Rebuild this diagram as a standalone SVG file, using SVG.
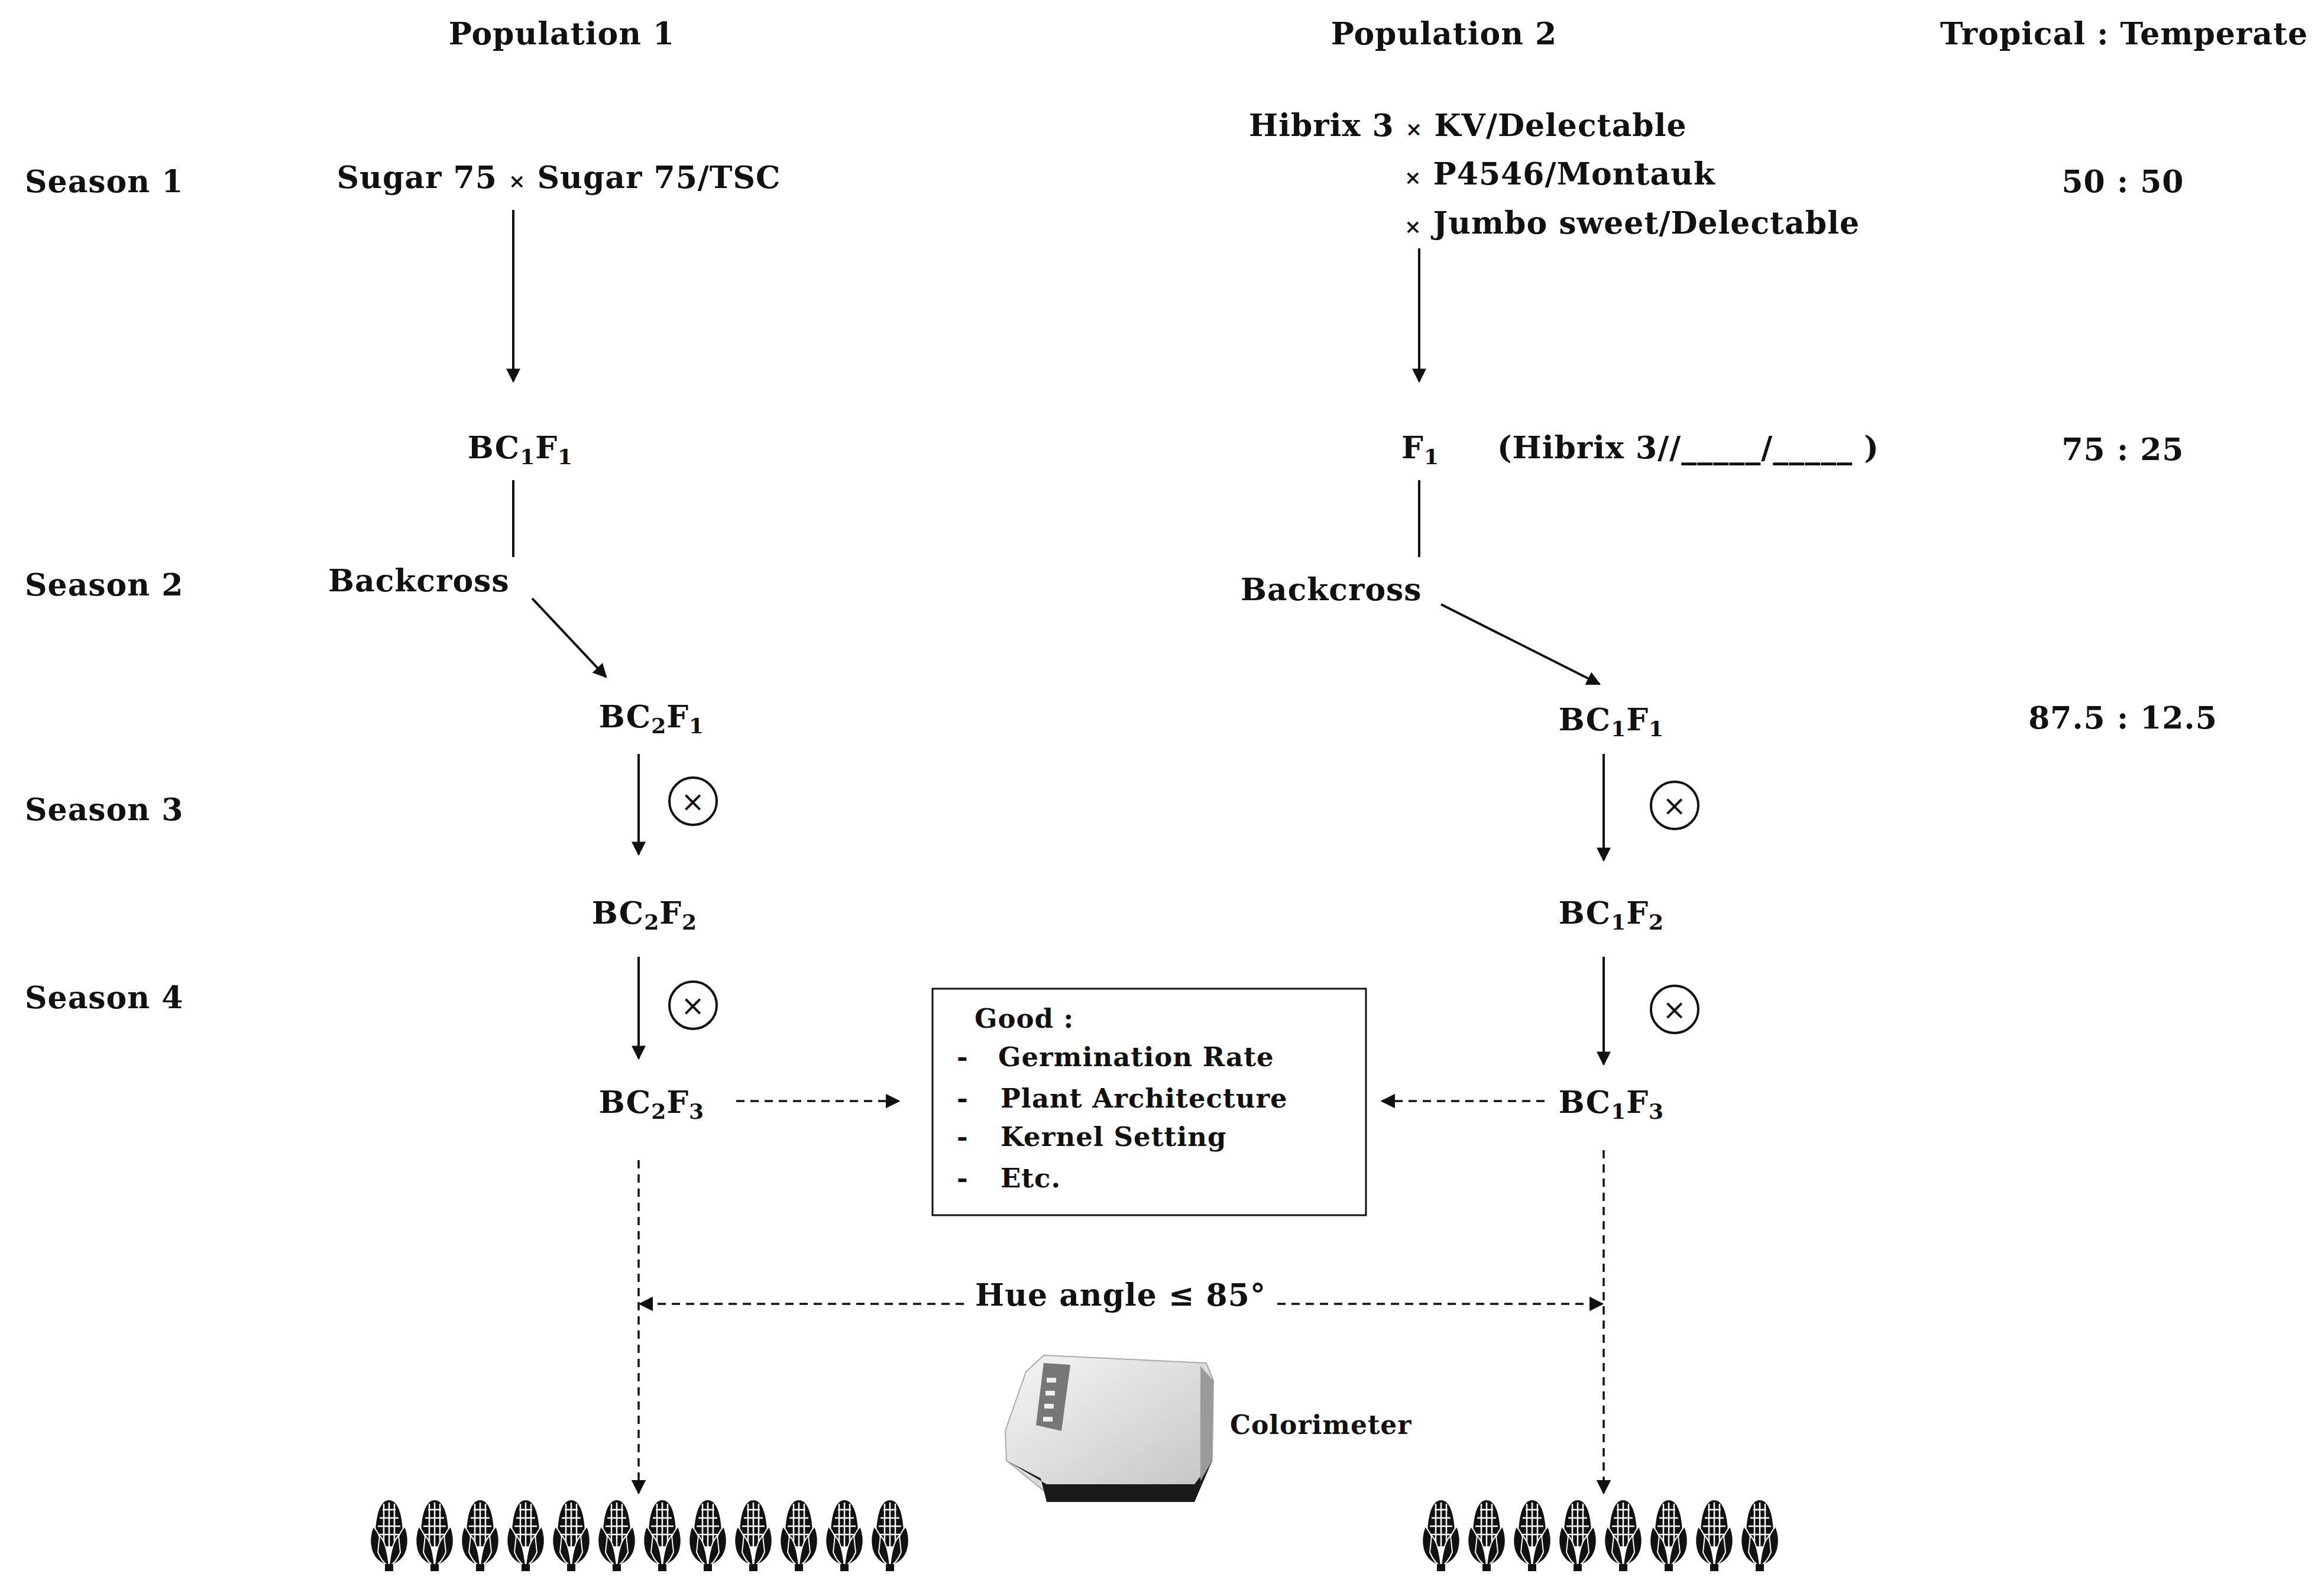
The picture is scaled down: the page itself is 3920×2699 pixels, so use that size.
<svg xmlns="http://www.w3.org/2000/svg" width="3920" height="2699" viewBox="0 0 3920 2699">
<style>
text{font-family:"DejaVu Serif","Liberation Serif",serif;font-weight:bold;fill:#111;font-size:52px;letter-spacing:1px}
.m{text-anchor:middle}
.sm{font-size:45px}
.x{font-size:48px;font-weight:normal;font-family:"DejaVu Sans",sans-serif}
.ln{stroke:#111;stroke-width:4;fill:none}
.ds{stroke:#111;stroke-width:3.5;fill:none;stroke-dasharray:14 10}
</style>
<defs>
<marker id="ah" viewBox="0 0 10 10" refX="9" refY="5" markerWidth="6" markerHeight="6" markerUnits="strokeWidth" orient="auto"><path d="M0,0 L10,5 L0,10 z" fill="#111"/></marker>
<marker id="ah2" viewBox="0 0 10 10" refX="9" refY="5" markerWidth="7" markerHeight="7" markerUnits="strokeWidth" orient="auto"><path d="M0,0 L10,5 L0,10 z" fill="#111"/></marker>
<g id="corn">
<path d="M0,2 C16,2 23,30 23,62 C23,72 21,78 18,80 L-18,80 C-21,78 -23,72 -23,62 C-23,30 -16,2 0,2 Z" fill="#111"/>
<path d="M-11,18 H11 M-16,32 H16 M-19,46 H19 M-20,60 H20 M0,6 V80 M-9,8 V78 M9,8 V78" stroke="#fff" stroke-width="2.5"/>
<path d="M-4,112 C-34,102 -36,70 -27,46 C-16,58 -8,82 -4,112 Z" fill="#111" stroke="#fff" stroke-width="2"/>
<path d="M4,112 C34,102 36,70 27,46 C16,58 8,82 4,112 Z" fill="#111" stroke="#fff" stroke-width="2"/>
<path d="M-16,62 C-6,72 -2,92 0,114 C2,92 6,72 16,62 L19,90 C14,102 8,110 0,114 C-8,110 -14,102 -19,90 Z" fill="#111" stroke="#fff" stroke-width="2"/>
<rect x="-7" y="110" width="14" height="12" fill="#111"/>
</g>
<linearGradient id="gb" x1="0" y1="0" x2="1" y2="1"><stop offset="0" stop-color="#f6f6f6"/><stop offset="1" stop-color="#c4c4c4"/></linearGradient>
</defs>

<g id="headers">
<text class="m" x="950" y="75">Population 1</text>
<text class="m" x="2442" y="75">Population 2</text>
<text class="m" x="3592" y="75">Tropical : Temperate</text>
<text x="42" y="325">Season 1</text>
<text x="42" y="1007">Season 2</text>
<text x="42" y="1387">Season 3</text>
<text x="42" y="1705">Season 4</text>
<text class="m" x="3590" y="325">50 : 50</text>
<text class="m" x="3590" y="778">75 : 25</text>
<text class="m" x="3590" y="1232">87.5 : 12.5</text>
</g>

<g id="p1-cross"><text class="m" x="945" y="318">Sugar 75 <tspan font-size="34">×</tspan> Sugar 75/TSC</text></g>
<g id="p1-bc1f1"><text class="m" x="880" y="775">BC<tspan font-size="36" dy="10">1</tspan><tspan dy="-10">F</tspan><tspan font-size="36" dy="10">1</tspan></text></g>
<g id="p1-backcross"><text x="555" y="1000">Backcross</text></g>
<g id="p1-bc2f1"><text class="m" x="1102" y="1230">BC<tspan font-size="36" dy="10">2</tspan><tspan dy="-10">F</tspan><tspan font-size="36" dy="10">1</tspan></text></g>
<g id="p1-bc2f2"><text class="m" x="1090" y="1562">BC<tspan font-size="36" dy="10">2</tspan><tspan dy="-10">F</tspan><tspan font-size="36" dy="10">2</tspan></text></g>
<g id="p1-bc2f3"><text class="m" x="1102" y="1882">BC<tspan font-size="36" dy="10">2</tspan><tspan dy="-10">F</tspan><tspan font-size="36" dy="10">3</tspan></text></g>

<g id="p2-cross">
<text x="2112" y="230">Hibrix 3 <tspan font-size="34">×</tspan> KV/Delectable</text>
<text x="2375" y="312"><tspan font-size="34">×</tspan> P4546/Montauk</text>
<text x="2375" y="395"><tspan font-size="34">×</tspan> Jumbo sweet/Delectable</text>
</g>
<g id="p2-f1"><text class="m" x="2402" y="775">F<tspan font-size="36" dy="10">1</tspan></text>
<text x="2532" y="775" font-size="44" letter-spacing="-1">(Hibrix 3//_____/_____ )</text></g>
<g id="p2-backcross"><text x="2098" y="1015">Backcross</text></g>
<g id="p2-bc1f1"><text class="m" x="2725" y="1235">BC<tspan font-size="36" dy="10">1</tspan><tspan dy="-10">F</tspan><tspan font-size="36" dy="10">1</tspan></text></g>
<g id="p2-bc1f2"><text class="m" x="2725" y="1562">BC<tspan font-size="36" dy="10">1</tspan><tspan dy="-10">F</tspan><tspan font-size="36" dy="10">2</tspan></text></g>
<g id="p2-bc1f3"><text class="m" x="2725" y="1882">BC<tspan font-size="36" dy="10">1</tspan><tspan dy="-10">F</tspan><tspan font-size="36" dy="10">3</tspan></text></g>

<g id="selfing">
<g class="ln"><circle cx="1172" cy="1355" r="40"/><circle cx="1172" cy="1700" r="40"/><circle cx="2832" cy="1362" r="40"/><circle cx="2832" cy="1707" r="40"/></g>
<text class="m x" x="1172" y="1372">×</text><text class="m x" x="1172" y="1717">×</text><text class="m x" x="2832" y="1379">×</text><text class="m x" x="2832" y="1724">×</text>
</g>

<g id="criteria">
<rect x="1577" y="1672" width="733" height="383" fill="#fff" stroke="#111" stroke-width="3"/>
<text x="1648" y="1738" class="sm">Good :</text>
<text x="1618" y="1803" class="sm">-</text><text x="1688" y="1803" class="sm">Germination Rate</text>
<text x="1618" y="1873" class="sm">-</text><text x="1692" y="1873" class="sm">Plant Architecture</text>
<text x="1618" y="1938" class="sm">-</text><text x="1692" y="1938" class="sm">Kernel Setting</text>
<text x="1618" y="2008" class="sm">-</text><text x="1692" y="2008" class="sm">Etc.</text>
</g>

<g id="hue"><text class="m" x="1895" y="2208">Hue angle ≤ 85°</text></g>

<g id="colorimeter">
<path d="M1735,2320 L1765,2292 L2040,2305 L2052,2335 L2050,2470 L2020,2525 L1770,2525 L1702,2470 L1700,2420 Z" fill="url(#gb)" stroke="#aaa" stroke-width="2"/>
<path d="M1702,2470 L1760,2500 L1770,2540 L2020,2540 L2050,2470 L2020,2510 L1770,2510 Z" fill="#1a1a1a"/>
<path d="M2030,2310 L2052,2335 L2050,2470 L2030,2505 Z" fill="#9a9a9a"/>
<path d="M1765,2305 L1810,2308 L1795,2420 L1752,2410 Z" fill="#777"/>
<g fill="#eee"><rect x="1770" y="2330" width="16" height="8"/><rect x="1768" y="2352" width="16" height="8"/><rect x="1766" y="2374" width="16" height="8"/><rect x="1764" y="2396" width="16" height="8"/></g>
<text x="2080" y="2425" style="font-size:44px">Colorimeter</text>
</g>

<g id="corn-left">
<use href="#corn" x="658" y="2535"/><use href="#corn" x="735" y="2535"/><use href="#corn" x="812" y="2535"/><use href="#corn" x="889" y="2535"/><use href="#corn" x="966" y="2535"/><use href="#corn" x="1043" y="2535"/><use href="#corn" x="1120" y="2535"/><use href="#corn" x="1197" y="2535"/><use href="#corn" x="1274" y="2535"/><use href="#corn" x="1351" y="2535"/><use href="#corn" x="1428" y="2535"/><use href="#corn" x="1505" y="2535"/>
</g>
<g id="corn-right">
<use href="#corn" x="2437" y="2535"/><use href="#corn" x="2514" y="2535"/><use href="#corn" x="2591" y="2535"/><use href="#corn" x="2668" y="2535"/><use href="#corn" x="2745" y="2535"/><use href="#corn" x="2822" y="2535"/><use href="#corn" x="2899" y="2535"/><use href="#corn" x="2976" y="2535"/>
</g>

<g id="connectors">
<line class="ln" x1="868" y1="355" x2="868" y2="645" marker-end="url(#ah)"/>
<line class="ln" x1="868" y1="812" x2="868" y2="942"/>
<line class="ln" x1="900" y1="1012" x2="1025" y2="1145" marker-end="url(#ah)"/>
<line class="ln" x1="1080" y1="1275" x2="1080" y2="1445" marker-end="url(#ah)"/>
<line class="ln" x1="1080" y1="1618" x2="1080" y2="1790" marker-end="url(#ah)"/>
<line class="ln" x1="2400" y1="420" x2="2400" y2="645" marker-end="url(#ah)"/>
<line class="ln" x1="2400" y1="812" x2="2400" y2="942"/>
<line class="ln" x1="2437" y1="1022" x2="2705" y2="1157" marker-end="url(#ah)"/>
<line class="ln" x1="2712" y1="1275" x2="2712" y2="1455" marker-end="url(#ah)"/>
<line class="ln" x1="2712" y1="1618" x2="2712" y2="1800" marker-end="url(#ah)"/>
<line class="ds" x1="1245" y1="1862" x2="1520" y2="1862" marker-end="url(#ah2)"/>
<line class="ds" x1="2612" y1="1862" x2="2337" y2="1862" marker-end="url(#ah2)"/>
<line class="ds" x1="1080" y1="1962" x2="1080" y2="2525" marker-end="url(#ah2)"/>
<line class="ds" x1="2712" y1="1945" x2="2712" y2="2525" marker-end="url(#ah2)"/>
<line class="ds" x1="1630" y1="2205" x2="1082" y2="2205" marker-end="url(#ah2)"/>
<line class="ds" x1="2160" y1="2205" x2="2710" y2="2205" marker-end="url(#ah2)"/>
</g>
</svg>
